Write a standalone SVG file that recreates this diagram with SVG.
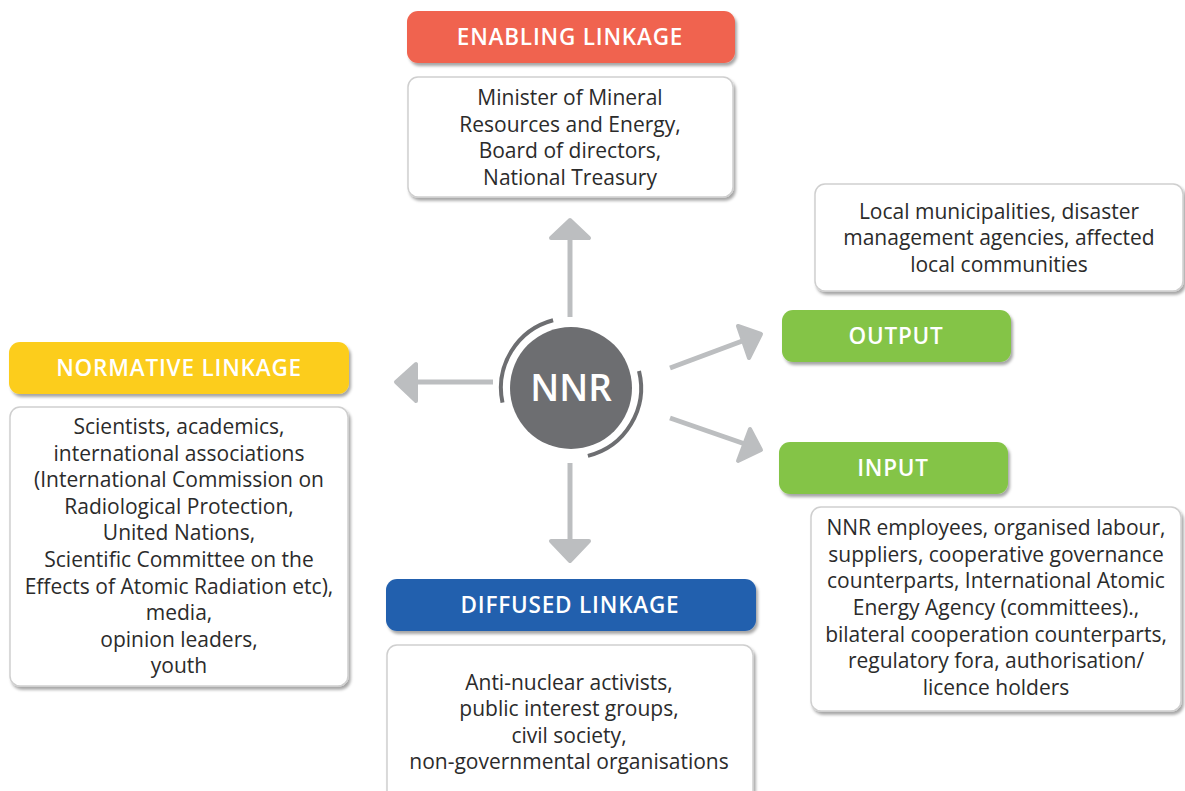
<svg xmlns="http://www.w3.org/2000/svg" width="1185" height="791" viewBox="0 0 1185 791">
<defs>
<filter id="sh" x="-10%" y="-10%" width="120%" height="130%">
<feDropShadow dx="2" dy="3" stdDeviation="1.8" flood-color="#000" flood-opacity="0.35"/>
</filter>
<style>
.hdr{filter:url(#sh)}
.body{fill:#fff;stroke:#cfcfcf;stroke-width:1.5;filter:url(#sh)}
.ht{font-family:"Open Sans","Liberation Sans",sans-serif;font-size:22.5px;font-weight:600;letter-spacing:0.8px;fill:#fff;text-anchor:middle}
.bt{font-family:"Open Sans","Liberation Sans",sans-serif;font-size:21px;fill:#2b2b2b;text-anchor:middle}
.shaft{stroke:#bcbec0;stroke-width:5;fill:none}
.head{fill:#bcbec0;stroke:#bcbec0;stroke-width:4;stroke-linejoin:round}
</style>
</defs>
<rect width="1185" height="791" fill="#fff"/>

<g id="connectors">
<line class="shaft" x1="570" y1="317" x2="570" y2="236"/>
<polygon class="head" points="570,220 589,238 551,238"/>
<line class="shaft" x1="493" y1="382" x2="414" y2="382"/>
<polygon class="head" points="396,382 416,364 416,401"/>
<line class="shaft" x1="570" y1="463" x2="570" y2="542"/>
<polygon class="head" points="570,561 551,541 589,541"/>
<line class="shaft" x1="670" y1="368" x2="745" y2="340"/>
<polygon class="head" points="761,334 738,326 749,358"/>
<line class="shaft" x1="670" y1="418" x2="745" y2="444"/>
<polygon class="head" points="761,450 750,429 738,461"/>
</g>

<g id="nnr">
<circle cx="571" cy="388" r="61" fill="#6d6e71"/>
<path d="M502.5,402.6 A70,70 0 0 1 553.1,320.3" fill="none" stroke="#6d6e71" stroke-width="4"/>
<path d="M639.0,371.1 A70,70 0 0 1 587.9,455.9" fill="none" stroke="#6d6e71" stroke-width="4"/>
<text x="571" y="401" font-family="'Open Sans','Liberation Sans',sans-serif" font-size="37" font-weight="600" fill="#fff" text-anchor="middle">NNR</text>
</g>

<g id="enabling">
<rect class="hdr" x="407" y="11" width="328" height="52" rx="11" fill="#f0634f"/>
<text class="ht" x="570" y="45">ENABLING LINKAGE</text>
</g>
<g id="enabling-body">
<rect class="body" x="408" y="77" width="325" height="120" rx="10"/>
<text class="bt" x="570" y="105">Minister of Mineral</text>
<text class="bt" x="570" y="132">Resources and Energy,</text>
<text class="bt" x="570" y="158">Board of directors,</text>
<text class="bt" x="570" y="185">National Treasury</text>
</g>

<g id="output-body">
<rect class="body" x="815" y="184" width="368" height="107" rx="10"/>
<text class="bt" x="999" y="219">Local municipalities, disaster</text>
<text class="bt" x="999" y="245">management agencies, affected</text>
<text class="bt" x="999" y="272">local communities</text>
</g>
<g id="output">
<rect class="hdr" x="782" y="310" width="229" height="52" rx="11" fill="#84c446"/>
<text class="ht" x="896" y="344">OUTPUT</text>
</g>

<g id="input">
<rect class="hdr" x="779" y="442" width="229" height="52" rx="11" fill="#84c446"/>
<text class="ht" x="893" y="476">INPUT</text>
</g>
<g id="input-body">
<rect class="body" x="811" y="507" width="370" height="204" rx="10"/>
<text class="bt" x="996" y="535">NNR employees, organised labour,</text>
<text class="bt" x="996" y="562">suppliers, cooperative governance</text>
<text class="bt" x="996" y="588">counterparts, International Atomic</text>
<text class="bt" x="996" y="615">Energy Agency (committees).,</text>
<text class="bt" x="996" y="642">bilateral cooperation counterparts,</text>
<text class="bt" x="996" y="668">regulatory fora, authorisation/</text>
<text class="bt" x="996" y="695">licence holders</text>
</g>

<g id="normative">
<rect class="hdr" x="9" y="342" width="340" height="52" rx="11" fill="#fccd1c"/>
<text class="ht" x="179" y="376">NORMATIVE LINKAGE</text>
</g>
<g id="normative-body">
<rect class="body" x="10" y="407" width="338" height="279" rx="10"/>
<text class="bt" x="179" y="434">Scientists, academics,</text>
<text class="bt" x="179" y="461">international associations</text>
<text class="bt" x="179" y="487">(International Commission on</text>
<text class="bt" x="179" y="514">Radiological Protection,</text>
<text class="bt" x="179" y="540">United Nations,</text>
<text class="bt" x="179" y="567">Scientific Committee on the</text>
<text class="bt" x="179" y="594">Effects of Atomic Radiation etc),</text>
<text class="bt" x="179" y="620">media,</text>
<text class="bt" x="179" y="647">opinion leaders,</text>
<text class="bt" x="179" y="673">youth</text>
</g>

<g id="diffused">
<rect class="hdr" x="386" y="579" width="370" height="52" rx="11" fill="#2360ae"/>
<text class="ht" x="570" y="613">DIFFUSED LINKAGE</text>
</g>
<g id="diffused-body">
<rect class="body" x="387" y="645" width="366" height="160" rx="10"/>
<text class="bt" x="569" y="690">Anti-nuclear activists,</text>
<text class="bt" x="569" y="716">public interest groups,</text>
<text class="bt" x="569" y="743">civil society,</text>
<text class="bt" x="569" y="769">non-governmental organisations</text>
</g>
</svg>
